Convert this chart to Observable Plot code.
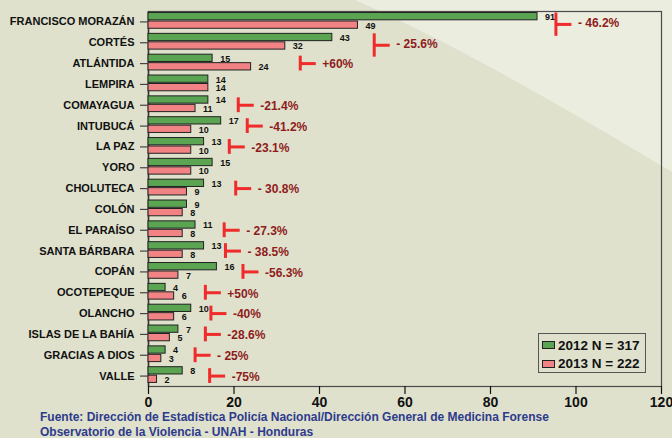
<!DOCTYPE html>
<html><head><meta charset="utf-8">
<script src="https://cdn.jsdelivr.net/npm/d3@7"></script>
<script src="https://cdn.jsdelivr.net/npm/@observablehq/plot@0.6"></script>
<style>
html,body{margin:0;padding:0;}
body{width:672px;height:438px;overflow:hidden;font-family:"Liberation Sans",Arial,sans-serif;background:#dfe1cc;}
#wrap{position:relative;width:672px;height:438px;}
#bg{position:absolute;left:0;top:0;}
#chart{position:absolute;left:0;top:0;}
#legend{position:absolute;left:538px;top:333px;width:108px;height:40px;border:1.5px solid #555;box-sizing:border-box;padding:2px 0 0 3px;}
.lrow{display:flex;align-items:center;height:18.5px;font-weight:bold;font-size:13.5px;color:#111;}
.sw{width:11px;height:6px;border:1px solid #222;margin-right:3px;}
#source{position:absolute;left:40px;top:410px;color:#2e3b8c;font-weight:bold;font-size:12px;line-height:15px;white-space:nowrap;}
</style>
</head><body>
<div id="wrap">
<svg id="bg" width="672" height="438"><path d="M355,0 Q470,50 672,172 L672,0 Z" fill="#ebeddf"/></svg>
<div id="chart"></div>
<div id="legend"></div>
<div id="source"></div>
</div>
<script>
const departamentos = ["FRANCISCO MORAZÁN","CORTÉS","ATLÁNTIDA","LEMPIRA","COMAYAGUA","INTUBUCÁ","LA PAZ","YORO","CHOLUTECA","COLÓN","EL PARAÍSO","SANTA BÁRBARA","COPÁN","OCOTEPEQUE","OLANCHO","ISLAS DE LA BAHÍA","GRACIAS A DIOS","VALLE"];
const casos2012 = [91,43,15,14,14,17,13,15,13,9,11,13,16,4,10,7,4,8];
const casos2013 = [49,32,24,14,11,10,10,10,9,8,8,8,7,6,6,5,3,2];
const cambio = ["- 46.2%","- 25.6%","+60%",null,"-21.4%","-41.2%","-23.1%",null,"- 30.8%",null,"- 27.3%","- 38.5%","-56.3%","+50%","-40%","-28.6%","- 25%","-75%"];
const cambioX = [95.3,52.8,35.5,null,21,23.1,18.9,null,20.4,null,17.7,18,22.1,13.3,14.6,13.3,10.9,14.3];
const anios = ["2012","2013"];
const leyenda = ["2012 N = 317","2013 N = 222"];
const colores = ["#5ba552","#f28385"];
const xTicks = [0,20,40,60,80,100,120];
const fuente = ["Fuente: Dirección de Estadística Policía Nacional/Dirección General de Medicina Forense","Observatorio de la Violencia - UNAH - Honduras"];

const rows = departamentos.flatMap((d,i)=>[
  {dep:d, anio:anios[0], n:casos2012[i]},
  {dep:d, anio:anios[1], n:casos2013[i]}
]);
const notes = departamentos.map((d,i)=>({dep:d, i, x:cambioX[i], label:cambio[i]})).filter(d=>d.label!=null);
const notesTall = notes.filter(d=>d.i<2);
const notesShort = notes.filter(d=>d.i>=2);
const red = "#ef2b2b";

const chart = Plot.plot({
  width: 672, height: 410,
  marginTop: 11, marginLeft: 148, marginRight: 11, marginBottom: 24,
  style: {background: "transparent", fontFamily: "Liberation Sans, Arial, sans-serif"},
  x: {domain: [0,120]},
  y: {domain: anios, paddingInner: 0.14, paddingOuter: 0.3, align: 0.3, round: false, axis: null},
  fy: {domain: departamentos, padding: 0, round: false},
  color: {domain: anios, range: colores},
  marks: [
    Plot.frame({facet: "super", stroke: "#4a4a4a", strokeWidth: 1.2}),
    Plot.ruleX([0], {stroke: "#333", strokeWidth: 1.5}),
    Plot.barX(rows, {x: "n", y: "anio", fy: "dep", fill: "anio", stroke: "#222", strokeWidth: 1}),
    Plot.text(rows, {x: "n", y: "anio", fy: "dep", text: d => String(d.n), dx: 7.5, dy: 0.5, textAnchor: "start", fontSize: 9, fontWeight: "bold", fill: "#111"}),
    Plot.ruleX(notesShort, {x: "x", fy: "dep", stroke: red, strokeWidth: 3, insetTop: 3, insetBottom: 3}),
    Plot.ruleX(notesTall, {x: "x", fy: "dep", stroke: red, strokeWidth: 3, insetTop: 1.5, insetBottom: -4}),
    Plot.ruleY(notesShort, {x1: "x", x2: "x", y: null, fy: "dep", insetRight: -16, stroke: red, strokeWidth: 3}),
    Plot.ruleY(notesTall, {x1: "x", x2: "x", y: null, fy: "dep", insetRight: -16, dy: 2.5, stroke: red, strokeWidth: 3}),
    Plot.text(notes, {x: "x", fy: "dep", text: "label", dx: 22, dy: 1, textAnchor: "start", fontSize: 12, fontWeight: "bold", fill: "#8e1c1c"}),
    Plot.axisFy({anchor: "left", label: null, tickSize: 8, tickPadding: 6, fontSize: 11, fontWeight: "bold", fill: "#111", stroke: "#444", strokeWidth: 1.2}),
    Plot.axisX({ticks: xTicks, tickSize: 8, tickPadding: 3, fontSize: 14, fontWeight: "bold", label: null, fill: "#111", stroke: "#111", strokeWidth: 1.2})
  ]
});
document.getElementById("chart").appendChild(chart);

const leg = document.getElementById("legend");
leyenda.forEach((t,i)=>{
  const r = document.createElement("div"); r.className = "lrow";
  const s = document.createElement("div"); s.className = "sw"; s.style.background = colores[i];
  const l = document.createElement("span"); l.textContent = t;
  r.appendChild(s); r.appendChild(l); leg.appendChild(r);
});
const src = document.getElementById("source");
fuente.forEach(t=>{ const d = document.createElement("div"); d.textContent = t; src.appendChild(d); });
</script>
</body></html>
